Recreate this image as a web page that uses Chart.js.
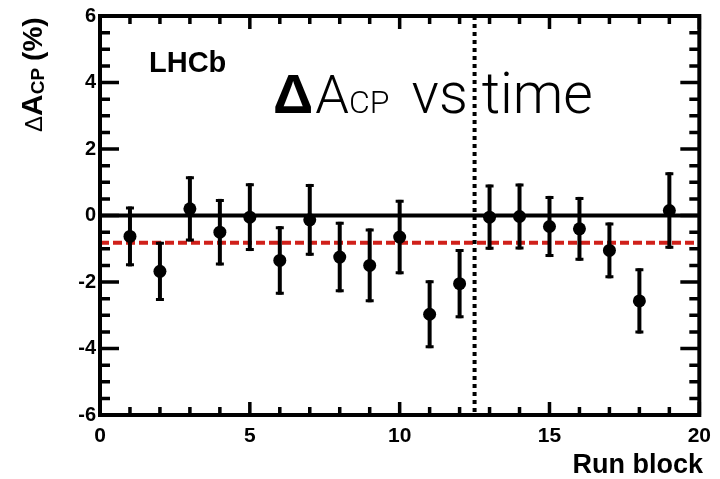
<!DOCTYPE html>
<html>
<head>
<meta charset="utf-8">
<script src="https://cdn.jsdelivr.net/npm/chart.js@4.4.0/dist/chart.umd.min.js"></script>
<style>
  html, body { margin: 0; padding: 0; background: #fff; }
  #wrap { width: 720px; height: 479px; }
</style>
</head>
<body>
<div id="wrap"><canvas id="acpChart" width="720" height="479"></canvas></div>
<script>
// run blocks and measured asymmetry per block (in %)
const runBlocks = [1, 2, 3, 4, 5, 6, 7, 8, 9, 10, 11, 12, 13, 14, 15, 16, 17, 18, 19];
const deltaAcp = [-0.63, -1.68, 0.2, -0.5, -0.05, -1.35, -0.13, -1.25, -1.5, -0.65,
                  -2.97, -2.05, -0.05, -0.03, -0.33, -0.4, -1.05, -2.57, 0.15];
const deltaAcpErr = [0.9, 0.89, 0.98, 1.0, 1.02, 1.03, 1.08, 1.06, 1.11, 1.12,
                     1.02, 1.04, 0.98, 0.99, 0.92, 0.96, 0.84, 0.98, 1.15];
const averageAcp = -0.82;
const polaritySwitch = 12.5;

const xTicks = [0, 5, 10, 15, 20];
const yTicks = [-6, -4, -2, 0, 2, 4, 6];
const xMinorStep = 1;
const yMinorStep = 0.5;

const font = (s, w, fam) => `${w || 'bold'} ${s}px ${fam || '"Liberation Sans", Arial, sans-serif'}`;

const rootStyle = {
  id: 'rootStyle',
  beforeDatasetsDraw(chart) {
    const { ctx, chartArea: a, scales: { x, y } } = chart;
    ctx.save();
    // zero line
    ctx.strokeStyle = '#000';
    ctx.lineWidth = 4;
    ctx.beginPath();
    ctx.moveTo(a.left, y.getPixelForValue(0));
    ctx.lineTo(a.right, y.getPixelForValue(0));
    ctx.stroke();
    // average
    ctx.strokeStyle = '#d0201a';
    ctx.setLineDash([9, 4]);
    ctx.beginPath();
    ctx.moveTo(a.left, y.getPixelForValue(averageAcp));
    ctx.lineTo(a.right, y.getPixelForValue(averageAcp));
    ctx.stroke();
    // magnet polarity switch
    ctx.strokeStyle = '#000';
    ctx.setLineDash([4, 4]);
    ctx.beginPath();
    ctx.moveTo(x.getPixelForValue(polaritySwitch), a.top);
    ctx.lineTo(x.getPixelForValue(polaritySwitch), a.bottom);
    ctx.stroke();
    ctx.setLineDash([]);
    // error bars
    ctx.strokeStyle = '#000';
    runBlocks.forEach((r, i) => {
      const px = x.getPixelForValue(r);
      const top = y.getPixelForValue(deltaAcp[i] + deltaAcpErr[i]);
      const bot = y.getPixelForValue(deltaAcp[i] - deltaAcpErr[i]);
      ctx.lineWidth = 4;
      ctx.beginPath();
      ctx.moveTo(px, top);
      ctx.lineTo(px, bot);
      ctx.stroke();
      ctx.lineWidth = 3;
      ctx.beginPath();
      ctx.moveTo(px - 4, top + 1.5); ctx.lineTo(px + 4, top + 1.5);
      ctx.moveTo(px - 4, bot - 1.5); ctx.lineTo(px + 4, bot - 1.5);
      ctx.stroke();
    });
    ctx.restore();
  },
  afterDatasetsDraw(chart) {
    const { ctx, chartArea: a, scales: { x, y } } = chart;
    ctx.save();
    ctx.strokeStyle = '#000';
    ctx.lineWidth = 4;
    ctx.strokeRect(a.left, a.top, a.right - a.left, a.bottom - a.top);

    // inward ticks on all four sides
    ctx.lineWidth = 3.5;
    ctx.beginPath();
    for (let v = x.min; v <= x.max + 1e-9; v += xMinorStep) {
      const px = x.getPixelForValue(v);
      const len = xTicks.includes(v) ? 13 : 8;
      ctx.moveTo(px, a.bottom); ctx.lineTo(px, a.bottom - len);
      ctx.moveTo(px, a.top); ctx.lineTo(px, a.top + len);
    }
    for (let v = y.min; v <= y.max + 1e-9; v += yMinorStep) {
      const py = y.getPixelForValue(v);
      const len = yTicks.includes(v) ? 19 : 10;
      ctx.moveTo(a.left, py); ctx.lineTo(a.left + len, py);
      ctx.moveTo(a.right, py); ctx.lineTo(a.right - len, py);
    }
    ctx.stroke();

    ctx.fillStyle = '#000';
    // experiment label
    ctx.font = font(29);
    ctx.textBaseline = 'alphabetic';
    ctx.textAlign = 'left';
    ctx.fillText('LHCb', 149, 72);

    // title: ΔA_CP vs time
    let tx = 273;
    const base = 113;
    ctx.font = font(56);
    ctx.fillText('Δ', tx, base);
    tx += ctx.measureText('Δ').width + 2;
    ctx.font = font(54, '300', 'Roboto, sans-serif');
    ctx.fillText('A', tx, base);
    tx += ctx.measureText('A').width;
    ctx.font = font(32, '300', 'Roboto, sans-serif');
    ctx.fillText('CP', tx, base);
    tx += ctx.measureText('CP').width + 22;
    ctx.font = font(57, '300', 'Roboto, sans-serif');
    ctx.fillText('vs time', tx, base);

    // x axis title
    ctx.font = font(27);
    ctx.textAlign = 'right';
    ctx.fillText('Run block', 703, 473);

    // y axis title, rotated
    ctx.translate(42, 132);
    ctx.rotate(-Math.PI / 2);
    ctx.textAlign = 'left';
    let ty = 0;
    ctx.font = font(24, 'normal');
    ctx.fillText('Δ', ty, 0);
    ty += ctx.measureText('Δ').width;
    ctx.font = font(30);
    ctx.fillText('A', ty, 0);
    ty += ctx.measureText('A').width;
    ctx.font = font(19);
    ctx.fillText('CP', ty, 2);
    ty += ctx.measureText('CP').width + 7;
    ctx.font = font(28);
    ctx.fillText('(%)', ty, 0);
    ctx.restore();
  }
};

new Chart(document.getElementById('acpChart'), {
  type: 'scatter',
  data: {
    datasets: [{
      data: runBlocks.map((r, i) => ({ x: r, y: deltaAcp[i] })),
      backgroundColor: '#000',
      borderColor: '#000',
      pointRadius: 6.5,
      pointHoverRadius: 6.5,
      borderWidth: 0
    }]
  },
  options: {
    responsive: false,
    animation: false,
    events: [],
    layout: { padding: { top: 15, right: 17, left: 0, bottom: 0 } },
    plugins: { legend: { display: false }, tooltip: { enabled: false } },
    scales: {
      x: {
        type: 'linear', min: 0, max: 20,
        afterBuildTicks: s => { s.ticks = xTicks.map(v => ({ value: v })); },
        afterFit: s => { s.height = 64; },
        grid: { display: false, drawTicks: false },
        border: { display: false },
        ticks: { color: '#000', font: { family: '"Liberation Sans", Arial, sans-serif', size: 21, weight: 'bold' }, padding: 9, maxRotation: 0 }
      },
      y: {
        type: 'linear', min: -6, max: 6,
        afterBuildTicks: s => { s.ticks = yTicks.map(v => ({ value: v })); },
        afterFit: s => { s.width = 100; },
        grid: { display: false, drawTicks: false },
        border: { display: false },
        ticks: { color: '#000', font: { family: '"Liberation Sans", Arial, sans-serif', size: 20, weight: 'bold' }, padding: 4 }
      }
    }
  },
  plugins: [rootStyle]
});
</script>
</body>
</html>
